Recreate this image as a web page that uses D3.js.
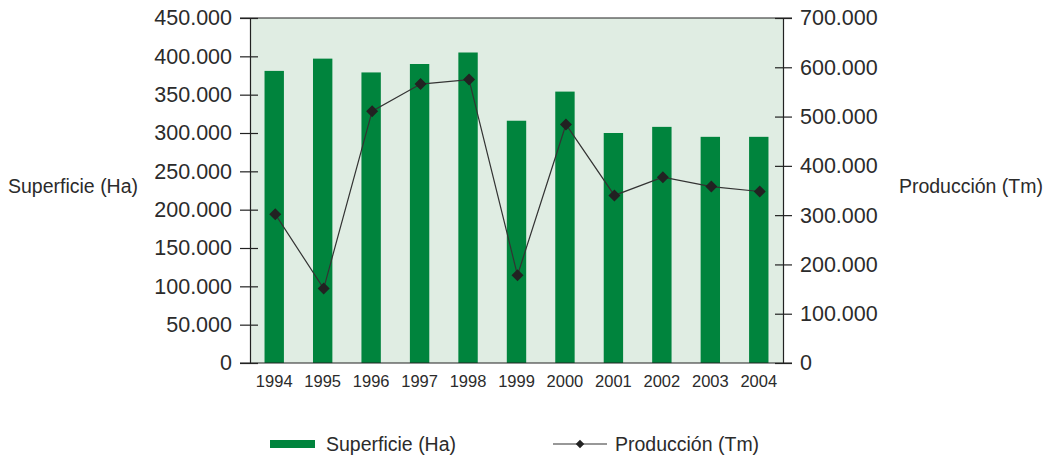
<!DOCTYPE html>
<html lang="es">
<head>
<meta charset="utf-8">
<title>Superficie y Producción</title>
<script src="https://d3js.org/d3.v7.min.js"></script>
<style>
  body { margin: 0; background: #fff; }
  text { font-family: "Liberation Sans", Arial, sans-serif; fill: #2b2b2b; }
</style>
</head>
<body>
<script>
// data
var years = ["1994","1995","1996","1997","1998","1999","2000","2001","2002","2003","2004"];
var superficie = [381000, 397000, 379000, 390000, 405000, 316000, 354000, 300000, 308000, 295000, 295000];
var produccion = [302000, 151000, 511000, 566000, 575000, 178000, 484000, 340000, 377000, 358000, 348000];
var leftTicks = [0, 50000, 100000, 150000, 200000, 250000, 300000, 350000, 400000, 450000];
var rightTicks = [0, 100000, 200000, 300000, 400000, 500000, 600000, 700000];

var w = 1047, h = 456;
// plot box (note: "top" is taken by window.top, so use other names)
var pL = 250, pR = 783, pT = 18, pB = 363;
var green = "#00843d", bg = "#e0ede3", ink = "#222";

// thousands with a dot, zero stays "0"
var fmt = function(d) { return d === 0 ? "0" : d3.format(",")(d).replace(/,/g, "."); };

var svg = d3.select("body").append("svg").attr("width", w).attr("height", h);

var x = d3.scaleBand().domain(years).range([pL, pR]).paddingInner(0.6).paddingOuter(0.3);
var yL = d3.scaleLinear().domain([0, 450000]).range([pB, pT]);
var yR = d3.scaleLinear().domain([0, 700000]).range([pB, pT]);

svg.append("rect").attr("x", pL).attr("y", pT)
  .attr("width", pR - pL).attr("height", pB - pT).attr("fill", bg);

svg.selectAll("rect.bar").data(years).enter().append("rect")
  .attr("class", "bar")
  .attr("x", d => x(d))
  .attr("width", x.bandwidth())
  .attr("y", (d, i) => yL(superficie[i]))
  .attr("height", (d, i) => pB - yL(superficie[i]))
  .attr("fill", green);

// frame lines top and bottom
svg.append("line").attr("x1", pL - 10).attr("x2", pR + 9).attr("y1", pT).attr("y2", pT)
  .attr("stroke", ink).attr("stroke-width", 1.2);
svg.append("line").attr("x1", pL - 10).attr("x2", pR + 9).attr("y1", pB).attr("y2", pB)
  .attr("stroke", ink).attr("stroke-width", 1.2);

var gL = svg.append("g").attr("transform", `translate(${pL},0)`)
  .call(d3.axisLeft(yL).tickValues(leftTicks).tickFormat(fmt).tickSize(10).tickPadding(8).tickSizeOuter(0));
gL.selectAll(".tick line").attr("x1", 8).attr("stroke", ink).attr("stroke-width", 1.2);
gL.select(".domain").attr("stroke", ink).attr("stroke-width", 1.2);
gL.selectAll(".tick text").attr("font-size", 21.5).attr("fill", "#2b2b2b").attr("font-family", "Liberation Sans, Arial, sans-serif");

var gR = svg.append("g").attr("transform", `translate(${pR},0)`)
  .call(d3.axisRight(yR).tickValues(rightTicks).tickFormat(fmt).tickSize(9).tickPadding(8).tickSizeOuter(0));
gR.selectAll(".tick line").attr("x1", -8).attr("stroke", ink).attr("stroke-width", 1.2);
gR.select(".domain").attr("stroke", ink).attr("stroke-width", 1.2);
gR.selectAll(".tick text").attr("font-size", 21.5).attr("fill", "#2b2b2b").attr("font-family", "Liberation Sans, Arial, sans-serif");

var gX = svg.append("g").attr("transform", `translate(0,${pB})`)
  .call(d3.axisBottom(x).tickSize(0).tickPadding(12));
gX.select(".domain").remove();
gX.selectAll(".tick text").attr("font-size", 16.5).attr("fill", "#2b2b2b").attr("font-family", "Liberation Sans, Arial, sans-serif");

// production line
var cx = d => x(d) + x.bandwidth() / 2 + 1;
var line = d3.line().x((d, i) => cx(years[i])).y(d => yR(d));
svg.append("path").datum(produccion).attr("d", line)
  .attr("fill", "none").attr("stroke", "#333").attr("stroke-width", 1.2);
var diamond = d3.symbol().type(d3.symbolSquare).size(72);
svg.selectAll("path.pt").data(produccion).enter().append("path")
  .attr("class", "pt")
  .attr("d", diamond)
  .attr("transform", (d, i) => `translate(${cx(years[i])},${yR(d)}) rotate(45)`)
  .attr("fill", ink);

// axis titles
svg.append("text").attr("x", 8).attr("y", 193).attr("font-size", 19.5).text("Superficie (Ha)");
svg.append("text").attr("x", 1043).attr("y", 193).attr("text-anchor", "end").attr("font-size", 19.5).text("Producción (Tm)");

// legend
var lg = svg.append("g");
lg.append("rect").attr("x", 270).attr("y", 440).attr("width", 45).attr("height", 8).attr("fill", green);
lg.append("text").attr("x", 326).attr("y", 451).attr("font-size", 19.5).text("Superficie (Ha)");
lg.append("line").attr("x1", 553).attr("x2", 607).attr("y1", 444).attr("y2", 444)
  .attr("stroke", "#333").attr("stroke-width", 1.2);
lg.append("path").attr("d", d3.symbol().type(d3.symbolSquare).size(36))
  .attr("transform", "translate(580,444) rotate(45)").attr("fill", ink);
lg.append("text").attr("x", 615).attr("y", 451).attr("font-size", 19.5).text("Producción (Tm)");
</script>
</body>
</html>
